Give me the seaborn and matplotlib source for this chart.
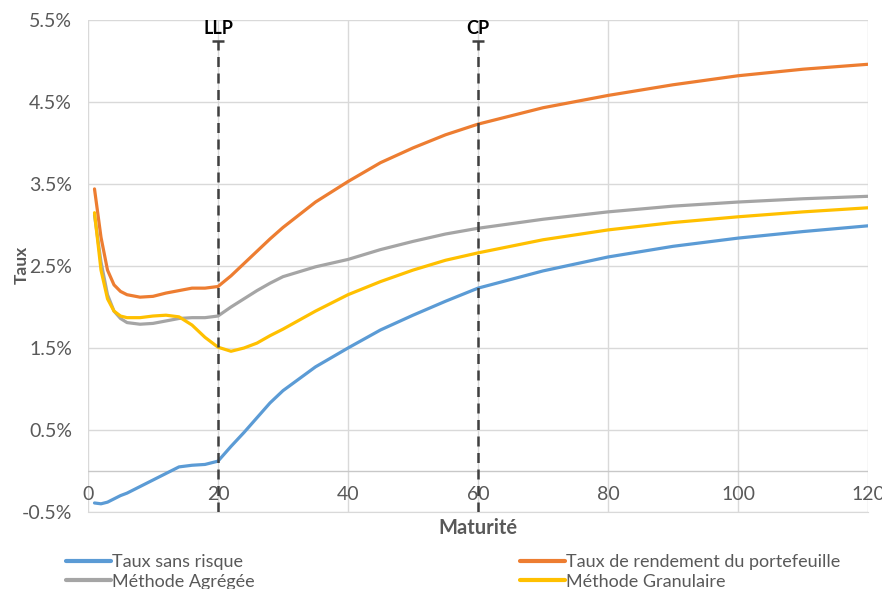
import numpy as np
import pandas as pd
import seaborn as sns
import matplotlib
matplotlib.use("Agg")
import matplotlib.pyplot as plt
from matplotlib.ticker import FuncFormatter

sns.set_style("white")
plt.rcParams['font.family'] = ['Lato', 'DejaVu Sans']

# maturités
maturite = [1, 2, 3, 4, 5, 6, 8, 10, 12, 14, 16, 18, 20, 22, 24, 26, 28, 30,
            35, 40, 45, 50, 55, 60, 70, 80, 90, 100, 110, 120]

taux_sans_risque = [-0.39, -0.40, -0.38, -0.34, -0.30, -0.27, -0.19, -0.11, -0.03, 0.05,
                    0.07, 0.08, 0.12, 0.30, 0.47, 0.65, 0.83, 0.98,
                    1.27, 1.50, 1.72, 1.90, 2.07, 2.23, 2.44, 2.61, 2.74, 2.84, 2.92, 2.99]
taux_rendement = [3.44, 2.85, 2.45, 2.27, 2.19, 2.15, 2.12, 2.13, 2.17, 2.20,
                  2.23, 2.23, 2.25, 2.38, 2.53, 2.68, 2.83, 2.97,
                  3.28, 3.53, 3.76, 3.94, 4.10, 4.23, 4.43, 4.58, 4.71, 4.82, 4.90, 4.96]
methode_agregee = [3.12, 2.55, 2.15, 1.95, 1.86, 1.81, 1.79, 1.80, 1.83, 1.86,
                   1.87, 1.87, 1.89, 2.00, 2.10, 2.20, 2.29, 2.37,
                   2.49, 2.58, 2.70, 2.80, 2.89, 2.96, 3.07, 3.16, 3.23, 3.28, 3.32, 3.35]
methode_granulaire = [3.15, 2.45, 2.10, 1.95, 1.89, 1.87, 1.87, 1.89, 1.90, 1.88,
                      1.78, 1.63, 1.51, 1.46, 1.50, 1.56, 1.65, 1.73,
                      1.95, 2.15, 2.31, 2.45, 2.57, 2.66, 2.82, 2.94, 3.03, 3.10, 3.16, 3.21]

series = ["Taux sans risque", "Taux de rendement du portefeuille",
          "Méthode Agrégée", "Méthode Granulaire"]
couleurs = ["#5B9BD5", "#ED7D31", "#A5A5A5", "#FFC000"]

reperes = [20, 60]
reperes_noms = ["LLP", "CP"]
reperes_haut = 5.25

df = pd.DataFrame({"Maturité": maturite,
                   series[0]: taux_sans_risque,
                   series[1]: taux_rendement,
                   series[2]: methode_agregee,
                   series[3]: methode_granulaire})
df = df.melt(id_vars="Maturité", var_name="Série", value_name="Taux")

fig = plt.figure(figsize=(8.82, 5.89), dpi=100)
ax = fig.add_axes([88/882, 1-512/589, 780/882, 492/589])

sns.lineplot(data=df, x="Maturité", y="Taux", hue="Série", hue_order=series,
             palette=couleurs, linewidth=2.3, ax=ax, zorder=3)

ax.set_xlim(0, 120)
ax.set_ylim(-0.5, 5.5)
ax.set_xticks(range(0, 121, 20))
ax.set_yticks(np.arange(-0.5, 5.6, 1.0))
ax.yaxis.set_major_formatter(FuncFormatter(lambda v, p: f"{v:.1f}%"))
ax.grid(True, color="#D9D9D9", linewidth=1)
ax.axhline(0, color="#C8C8C8", linewidth=1, zorder=1)
for s in ax.spines.values():
    s.set_visible(False)
ax.spines["bottom"].set_visible(True)
ax.spines["bottom"].set_color("#D9D9D9")
ax.tick_params(axis="x", length=0, pad=-18.5, labelsize=14, labelcolor="#595959")
ax.tick_params(axis="y", length=0, pad=11.5, labelsize=14, labelcolor="#595959")
ax.set_xlabel("")
ax.set_ylabel("")

ax.vlines(reperes, -0.5, reperes_haut, colors="#404040", linewidth=1.8,
          linestyles=(0, (4, 2.6)), zorder=4)
ax.plot(reperes, [reperes_haut] * len(reperes), ls="none", marker="_",
        ms=8, mew=1.8, color="#404040", zorder=4)
for x, nom in zip(reperes, reperes_noms):
    ax.text(x, 5.40, nom, ha="center", va="center", fontsize=13,
            fontweight="bold", color="black", clip_on=False)

fig.text(478/882, 1-528/589, "Maturité", ha="center", va="center",
         fontsize=14.5, fontweight="bold", color="#595959")
fig.text(22/882, 1-265/589, "Taux", ha="center", va="center", rotation=90,
         fontsize=12.5, fontweight="bold", color="#595959")

# légende sur deux colonnes, remplie ligne par ligne
handles, labels = ax.get_legend_handles_labels()
ordre = [0, 2, 1, 3]
ax.get_legend().remove()
leg = ax.legend([handles[i] for i in ordre], [labels[i] for i in ordre],
                loc="upper left", bbox_to_anchor=(66/882, 1-554/589),
                bbox_transform=fig.transFigure, ncol=2, frameon=False,
                fontsize=13, handlelength=2.5, handletextpad=0.05,
                columnspacing=14.7, labelspacing=0.2, borderpad=0, borderaxespad=0)
for t in leg.get_texts():
    t.set_color("#595959")
for h in leg.legend_handles:
    h.set_linewidth(3)

fig.savefig("out.png", dpi=100)
